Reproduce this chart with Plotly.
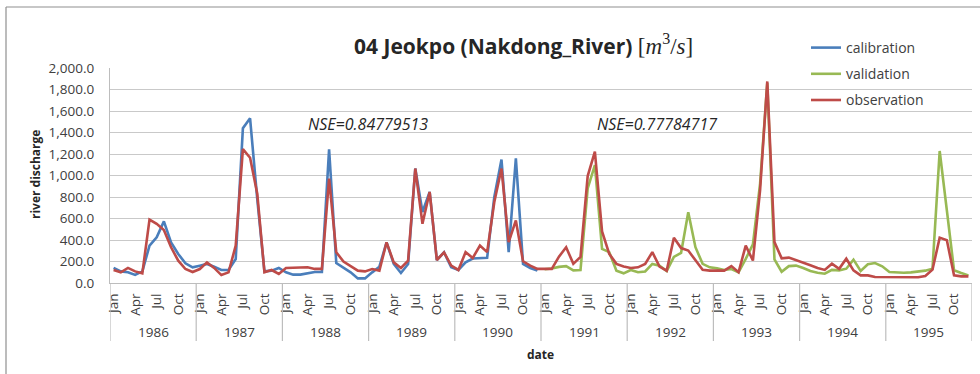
import plotly.graph_objects as go

# Monthly river discharge at Jeokpo, 1986-1995
years = [1986, 1987, 1988, 1989, 1990, 1991, 1992, 1993, 1994, 1995]
month_names = ["Jan", "Feb", "Mar", "Apr", "May", "Jun",
               "Jul", "Aug", "Sep", "Oct", "Nov", "Dec"]
labelled_months = ["Jan", "Apr", "Jul", "Oct"]

# simulated flow, calibration period 1986-1990
calibration = [
    140, 108, 100, 75, 108, 347, 425, 573, 378, 270, 183, 146,
    161, 177, 152, 121, 121, 223, 1439, 1532, 780, 109, 115, 140,
    100, 78, 78, 93, 103, 103, 1243, 185, 146, 99, 43, 43,
    99, 152, 378, 177, 93, 177, 1065, 660, 847, 214, 285, 146,
    121, 192, 228, 234, 234, 800, 1149, 287, 1159, 178, 140, 115,
]

# simulated flow, validation period 1991-1995
validation = [
    128, 135, 150, 157, 118, 121, 880, 1096, 317, 287, 115, 90,
    121, 100, 107, 178, 160, 112, 243, 280, 658, 333, 178, 146,
    136, 121, 130, 100, 224, 360, 925, 1860, 220, 105, 157, 162,
    140, 112, 95, 86, 122, 118, 133, 217, 112, 174, 186, 155,
    102, 96, 96, 99, 105, 115, 133, 1228, 676, 118, 93, 71,
]

# observed flow, 1986-1995
observation = [
    120, 100, 140, 108, 90, 590, 550, 493, 332, 208, 130, 102,
    130, 192, 140, 74, 99, 347, 1246, 1165, 830, 100, 121, 84,
    140, 140, 146, 146, 131, 131, 972, 286, 200, 161, 115, 108,
    130, 115, 378, 192, 140, 208, 1065, 551, 847, 214, 285, 161,
    121, 287, 233, 348, 287, 754, 1065, 380, 582, 202, 162, 131,
    131, 131, 245, 333, 178, 243, 995, 1221, 480, 271, 178, 153,
    140, 146, 178, 287, 153, 115, 420, 325, 302, 209, 122, 115,
    115, 115, 157, 100, 348, 209, 863, 1875, 380, 230, 236, 210,
    191, 165, 140, 122, 180, 132, 226, 118, 71, 71, 56, 56,
    50, 53, 56, 53, 53, 65, 124, 422, 397, 71, 62, 62,
]

nse_labels = ["NSE=0.84779513", "NSE=0.77784717"]

n_months = len(years) * 12
x_all = list(range(n_months))
x_cal = x_all[:len(calibration)]
x_val = x_all[len(calibration):]

BLUE = "#4A7EBB"
GREEN = "#98B954"
RED = "#BE4B48"
GRID = "#c9c9c9"
AXIS = "#bdbdbd"
FONT = "Open Sans"
TEXT = "#404040"
DARK = "#262626"

fig = go.Figure()
fig.add_trace(go.Scatter(x=x_cal, y=calibration, mode="lines", name="calibration",
                         line=dict(color=BLUE, width=2.6), legendgroup="c"))
fig.add_trace(go.Scatter(x=x_val, y=validation, mode="lines", name="validation",
                         line=dict(color=GREEN, width=2.6), legendgroup="v"))
fig.add_trace(go.Scatter(x=x_all, y=observation, mode="lines", name="observation",
                         line=dict(color=RED, width=2.6), legendgroup="o"))

tickvals = [i for i in x_all if month_names[i % 12] in labelled_months]
ticktext = [month_names[i % 12] for i in tickvals]

# pixel geometry of the plotting area
L, R, T, B = 110, 972, 68, 283
W, H = 980, 374


def py(p):
    return (B - p) / (B - T)


def px(p):
    return (p - L) / (R - L)


shapes = []
# year separators below the axis
for k in range(len(years) + 1):
    shapes.append(dict(type="line", xref="x", yref="paper",
                       x0=12 * k - 0.5, x1=12 * k - 0.5, y0=0, y1=py(341),
                       line=dict(color=AXIS, width=1.2)))
# outer chart frame
shapes.append(dict(type="line", xref="paper", yref="paper",
                   x0=px(6), x1=px(6), y0=py(7), y1=py(400),
                   line=dict(color="#8f8f8f", width=1.2)))
shapes.append(dict(type="line", xref="paper", yref="paper",
                   x0=px(6), x1=px(1000), y0=py(7), y1=py(7),
                   line=dict(color="#8f8f8f", width=1.2)))


def note(x, y, text, size, color=DARK, xanchor="center", angle=0):
    return dict(x=x, y=y, xref="paper", yref="paper", text=text, showarrow=False,
                xanchor=xanchor, yanchor="middle", textangle=angle,
                font=dict(family=FONT, size=size, color=color))


annotations = []
for k, yr in enumerate(years):
    annotations.append(dict(x=12 * k + 5.5, y=py(332), xref="x", yref="paper",
                            text=str(yr), showarrow=False,
                            xanchor="center", yanchor="middle",
                            font=dict(family=FONT, size=13.5, color=TEXT)))
annotations.append(note(px(306), py(124), "<i>" + nse_labels[0] + "</i>", 16, xanchor="left"))
annotations.append(note(px(595), py(124), "<i>" + nse_labels[1] + "</i>", 16, xanchor="left"))
annotations.append(note(px(540), py(354), "<b>date</b>", 12))
annotations.append(note(px(35), py(175), "<b>river discharge</b>", 12, angle=-90))
annotations.append(note(px(523), py(45),
                        "<b>04 Jeokpo (Nakdong_River)</b> "
                        "<span style=\"font-family:'Liberation Serif';font-size:23px\">[<i>m</i>"
                        "<sup>3</sup>/<i>s</i>]</span>", 21))

fig.update_layout(
    width=W, height=H,
    margin=dict(l=L, r=W - R, t=T, b=H - B),
    paper_bgcolor="white", plot_bgcolor="white",
    font=dict(family=FONT, size=13, color=TEXT),
    showlegend=True,
    legend=dict(x=px(806), y=py(32), xanchor="left", yanchor="top",
                font=dict(family=FONT, size=14, color=TEXT),
                tracegroupgap=5, bgcolor="rgba(0,0,0,0)", itemwidth=30),
    xaxis=dict(range=[-0.5, n_months - 0.5], tickvals=tickvals, ticktext=ticktext,
               tickangle=-90, showgrid=False, zeroline=False,
               showline=True, linecolor=AXIS, linewidth=1.2, ticks="",
               ticklabelstandoff=4, tickfont=dict(family=FONT, size=13.5, color=TEXT)),
    yaxis=dict(range=[0, 2000], dtick=200, tickformat=",.1f",
               showgrid=True, gridcolor=GRID, gridwidth=1.2, zeroline=False,
               showline=True, linecolor=AXIS, linewidth=1.2, ticks="",
               ticklabelstandoff=12, tickfont=dict(family=FONT, size=13.5, color=TEXT)),
    shapes=shapes,
    annotations=annotations,
)

fig.write_html("out.html")
